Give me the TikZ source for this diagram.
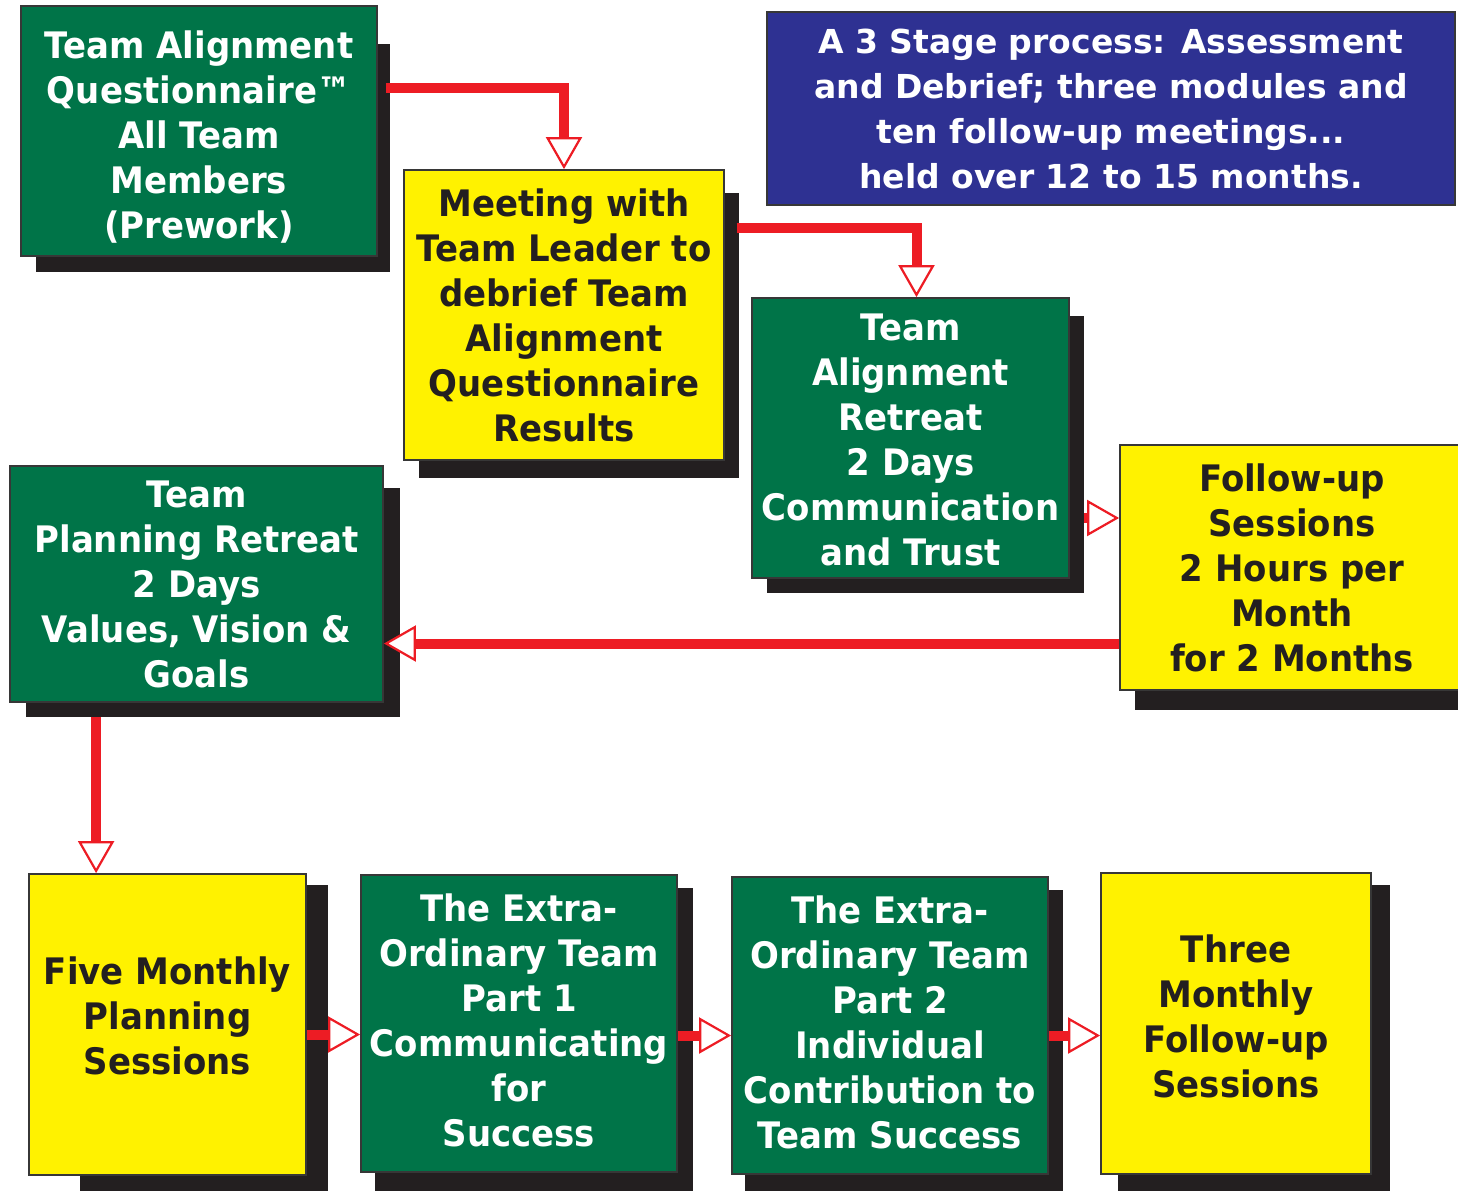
\documentclass[tikz,border=0pt]{standalone}
\usepackage{fontspec}
\usetikzlibrary{arrows.meta,calc}
\newfontfamily\boxfont{DejaVu Sans}[FakeStretch=0.93]
\newfontfamily\bluefont{DejaVu Sans}
\definecolor{grn}{RGB}{0,116,72}
\definecolor{ylw}{RGB}{255,242,0}
\definecolor{blu}{RGB}{46,49,146}
\definecolor{rd}{RGB}{237,28,36}
\definecolor{shd}{RGB}{35,31,32}
\definecolor{edgec}{RGB}{55,55,55}
\begin{document}
\begin{tikzpicture}[x=0.5pt,y=-0.5pt,
  box/.style={draw=edgec, line width=0.9pt, inner sep=0pt, align=center,
    font=\boxfont\bfseries\fontsize{18.25pt}{22.5pt}\selectfont},
  gbox/.style={box, fill=grn, text=white},
  ybox/.style={box, fill=ylw, text=shd},
  btxt/.style={inner sep=0pt, align=center,
    font=\boxfont\bfseries\fontsize{18.25pt}{22.5pt}\selectfont},
  gtxt/.style={btxt, text=white},
  ytxt/.style={btxt, text=shd},
  bbox/.style={box, fill=blu, text=white,
    font=\bluefont\bfseries\fontsize{16.5pt}{22.5pt}\selectfont},
  conn/.style={draw=rd, line width=5pt, line join=miter,
    -{Triangle[length=16pt, width=18pt, fill=white, line width=1.1pt]}}
]
\useasboundingbox (0,0) rectangle (1458,1190);
\clip (0,0) rectangle (1458,1190);
% shadows
\fill[shd] (36,44) rectangle (390,272);
\fill[shd] (419,193) rectangle (739,478);
\fill[shd] (767,316) rectangle (1084,593);
\fill[shd] (1135,460) rectangle (1470,710);
\fill[shd] (26,488) rectangle (400,717);
\fill[shd] (80,885) rectangle (328,1195);
\fill[shd] (375,888) rectangle (693,1195);
\fill[shd] (745,890) rectangle (1063,1195);
\fill[shd] (1118,885) rectangle (1390,1195);
% boxes
\node[gbox, minimum width=178pt, minimum height=125pt] (b1) at (199,131) {};
\node[gtxt] (b1t) at ($(b1.center)+(0,6)$)
  {Team Alignment\\Questionnaire™\\All Team\\Members\\(Prework)};
\node[ybox, minimum width=160pt, minimum height=145pt] (b2) at (564,315)
  {Meeting with\\Team Leader to\\debrief Team\\Alignment\\Questionnaire\\Results};
\node[gbox, minimum width=158.5pt, minimum height=140pt] (b3) at (910.5,438) {};
\node[gtxt] (b3t) at ($(b3.center)+(0,2)$)
  {Team\\Alignment\\Retreat\\2 Days\\Communication\\and Trust};
\node[bbox, minimum width=344pt, minimum height=96.5pt] (b4) at (1111,108.5)
  {A 3 Stage process: Assessment\\and Debrief; three modules and\\ten follow-up meetings...\\held over 12 to 15 months.};
\node[ybox, minimum width=172pt, minimum height=122.5pt] (b5) at (1292,567.5)
  {Follow-up\\Sessions\\2 Hours per\\Month\\for 2 Months};
\node[gbox, minimum width=186.5pt, minimum height=118pt] (b6) at (196.5,584)
  {Team\\Planning Retreat\\2 Days\\Values, Vision \&\\Goals};
\node[ybox, minimum width=138.5pt, minimum height=150.5pt] (b7) at (167.5,1024.5) {};
\node[ytxt] (b7t) at ($(b7.center)+(0,-9)$)
  {Five Monthly\\Planning\\Sessions};
\node[gbox, minimum width=158pt, minimum height=148.5pt] (b8) at (519,1023.5) {};
\node[gtxt] (b8t) at ($(b8.center)+(0,-3)$)
  {The Extra-\\Ordinary Team\\Part 1\\Communicating\\for\\Success};
\node[gbox, minimum width=158pt, minimum height=148.5pt] (b9) at (890,1025.5) {};
\node[gtxt] (b9t) at ($(b9.center)+(0,-3)$)
  {The Extra-\\Ordinary Team\\Part 2\\Individual\\Contribution to\\Team Success};
\node[ybox, minimum width=135pt, minimum height=150.5pt] (b10) at (1236,1023.5) {};
\node[ytxt] (b10t) at ($(b10.center)+(0,-7)$)
  {Three\\Monthly\\Follow-up\\Sessions};
% connectors
\coordinate (c1) at ($(b1.north east)+(8,83)$);
\draw[conn] (c1) -| (b2.north);
\coordinate (c2) at ($(b2.north east)+(12,59)$);
\coordinate (t2) at ($(b3.north)+(6,0)$);
\draw[conn] (c2) -| (t2);
\coordinate (c3) at ($(b3.east)+(14,80)$);
\draw[conn] (c3) -- (c3 -| b5.west);
\coordinate (c4) at ($(b5.west)+(0,76)$);
\draw[conn] (c4) -- (c4 -| b6.east);
\coordinate (c5) at ($(b6.south west)+(87,14)$);
\draw[conn] (c5) -- (c5 |- b7.north);
\coordinate (c6) at ($(b7.east)+(0,10)$);
\draw[conn] (c6) -- (c6 -| b8.west);
\coordinate (c7) at ($(b8.east)+(0,12)$);
\draw[conn] (c7) -- (c7 -| b9.west);
\coordinate (c8) at ($(b9.east)+(0,10)$);
\draw[conn] (c8) -- (c8 -| b10.west);
\end{tikzpicture}
\end{document}
